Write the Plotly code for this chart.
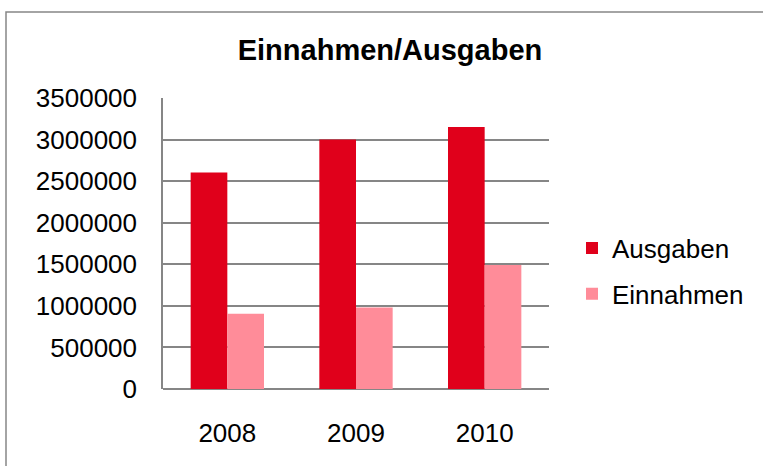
import plotly.graph_objects as go

years = ["2008", "2009", "2010"]
ausgaben = [2605000, 3000000, 3150000]
einnahmen = [905000, 980000, 1490000]
tick_vals = [0, 500000, 1000000, 1500000, 2000000, 2500000, 3000000, 3500000]

W, H = 763, 466
L, R, T, B = 163, 214, 98, 77
pw, ph = W - L - R, H - T - B

fig = go.Figure()
fig.add_trace(go.Bar(x=years, y=ausgaben, name="Ausgaben", marker_color="#E0001B",
                     marker_line_width=0, legendgroup="a"))
fig.add_trace(go.Bar(x=years, y=einnahmen, name="Einnahmen", marker_color="#FF8C99",
                     marker_line_width=0, legendgroup="e"))

# outer chart frame (runs off the right/bottom edge)
fig.add_shape(type="rect", xref="paper", yref="paper",
              x0=(6 - L) / pw, x1=(W + 20 - L) / pw,
              y0=(H - B - (H + 20)) / ph, y1=(H - B - 12) / ph,
              line=dict(color="#868686", width=1.5), fillcolor="rgba(0,0,0,0)", layer="below")

fig.update_layout(
    width=W, height=H,
    margin=dict(l=L, r=R, t=T, b=B, autoexpand=False),
    paper_bgcolor="white", plot_bgcolor="white",
    font=dict(family="Liberation Sans, Arial", size=26, color="black"),
    title=dict(text="<b>Einnahmen/Ausgaben</b>", x=390 / W, xanchor="center",
               y=1 - 50 / H, yanchor="middle", font=dict(size=29, color="black")),
    barmode="group", bargap=0.43, bargroupgap=0,
    showlegend=True,
    legend=dict(x=(572 - L) / pw, y=(389 - 271) / ph, xanchor="left", yanchor="middle",
                font=dict(size=26), traceorder="grouped", tracegroupgap=9,
                bgcolor="rgba(0,0,0,0)"),
)
fig.update_xaxes(showgrid=False, showline=False, ticks="", ticklabelstandoff=26,
                 automargin=False)
fig.update_yaxes(range=[0, 3500000], tickvals=tick_vals, tickformat="d",
                 showgrid=True, gridcolor="#868686", gridwidth=1.5,
                 showline=True, linecolor="#868686", linewidth=1.5,
                 zeroline=True, zerolinecolor="#868686", zerolinewidth=1.5,
                 ticks="", ticklabelstandoff=19, automargin=False)

fig.write_html("out.html", config={"displayModeBar": False},
               post_script="document.body.style.margin='0';")
